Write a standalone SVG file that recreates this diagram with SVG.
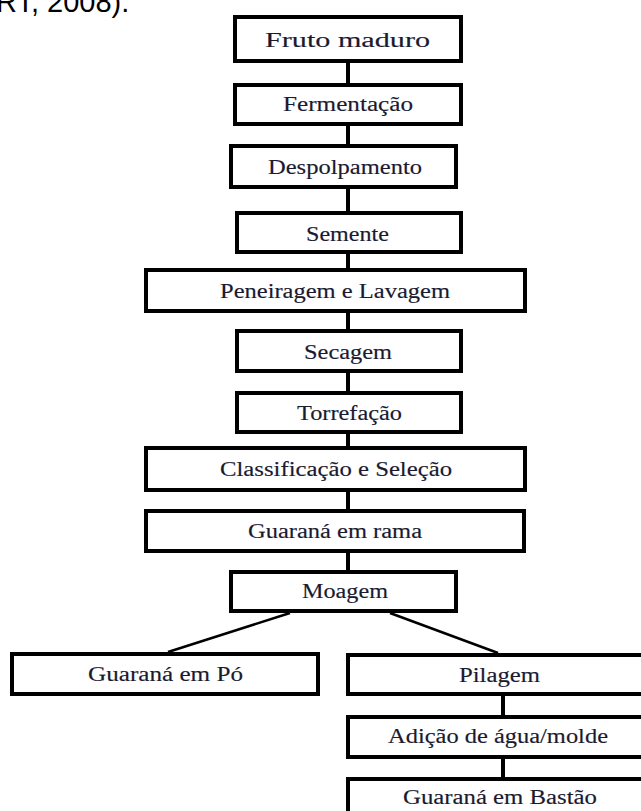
<svg xmlns="http://www.w3.org/2000/svg" width="641" height="811" viewBox="0 0 641 811">
<style>
.box{fill:#fff;stroke:#000;stroke-width:4}
.lbl{font-family:"Liberation Serif","Times New Roman",serif;font-size:20px;fill:#1a1a30;stroke:#1a1a30;stroke-width:0.15}
.con{stroke:#000;fill:none}
</style>
<rect x="0" y="0" width="641" height="811" fill="#fff"/>
<text x="-4" y="12" font-family="Liberation Sans, Arial, sans-serif" font-size="29" fill="#000">RT, 2008).</text>
<g id="connectors" class="con">
<path d="M348 63V83M348 126V144M348 189V211M348 254V268M348 313V329M348 373V391M348 434V446M348 492V509M348 553V570" stroke-width="4"/>
<path d="M503 696V715M503 757V777" stroke-width="4"/>
<path d="M290 613L168 652M390 613L498 653" stroke-width="2.5"/>
</g>
<g id="n1"><rect class="box" x="235" y="17" width="226" height="44"/><text class="lbl" x="265" y="47" font-size="25" textLength="165" lengthAdjust="spacingAndGlyphs">Fruto maduro</text></g>
<g id="n2"><rect class="box" x="235" y="85" width="226" height="39"/><text class="lbl" x="283" y="111" textLength="130" lengthAdjust="spacingAndGlyphs">Fermentação</text></g>
<g id="n3"><rect class="box" x="231" y="146" width="225" height="41"/><text class="lbl" x="268" y="174" textLength="154" lengthAdjust="spacingAndGlyphs">Despolpamento</text></g>
<g id="n4"><rect class="box" x="237" y="213" width="224" height="39"/><text class="lbl" x="306" y="241" textLength="83" lengthAdjust="spacingAndGlyphs">Semente</text></g>
<g id="n5"><rect class="box" x="146" y="270" width="379" height="41"/><text class="lbl" x="220" y="298" textLength="230" lengthAdjust="spacingAndGlyphs">Peneiragem e Lavagem</text></g>
<g id="n6"><rect class="box" x="237" y="331" width="224" height="40"/><text class="lbl" x="304" y="359" textLength="88" lengthAdjust="spacingAndGlyphs">Secagem</text></g>
<g id="n7"><rect class="box" x="237" y="393" width="224" height="39"/><text class="lbl" x="297" y="420" textLength="105" lengthAdjust="spacingAndGlyphs">Torrefação</text></g>
<g id="n8"><rect class="box" x="146" y="448" width="379" height="42"/><text class="lbl" x="220" y="476" textLength="232" lengthAdjust="spacingAndGlyphs">Classificação e Seleção</text></g>
<g id="n9"><rect class="box" x="146" y="511" width="378" height="40"/><text class="lbl" x="248" y="538" textLength="174" lengthAdjust="spacingAndGlyphs">Guaraná em rama</text></g>
<g id="n10"><rect class="box" x="231" y="572" width="225" height="39"/><text class="lbl" x="302" y="598" textLength="86" lengthAdjust="spacingAndGlyphs">Moagem</text></g>
<g id="n11"><rect class="box" x="12" y="654" width="306" height="40"/><text class="lbl" x="88" y="681" textLength="155" lengthAdjust="spacingAndGlyphs">Guaraná em Pó</text></g>
<g id="n12"><rect class="box" x="348" y="655" width="306" height="39"/><text class="lbl" x="459" y="682" textLength="81" lengthAdjust="spacingAndGlyphs">Pilagem</text></g>
<g id="n13"><rect class="box" x="348" y="717" width="306" height="40"/><text class="lbl" x="388" y="743" textLength="220" lengthAdjust="spacingAndGlyphs">Adição de água/molde</text></g>
<g id="n14"><rect class="box" x="348" y="779" width="306" height="40"/><text class="lbl" x="403" y="804" textLength="194" lengthAdjust="spacingAndGlyphs">Guaraná em Bastão</text></g>
</svg>
